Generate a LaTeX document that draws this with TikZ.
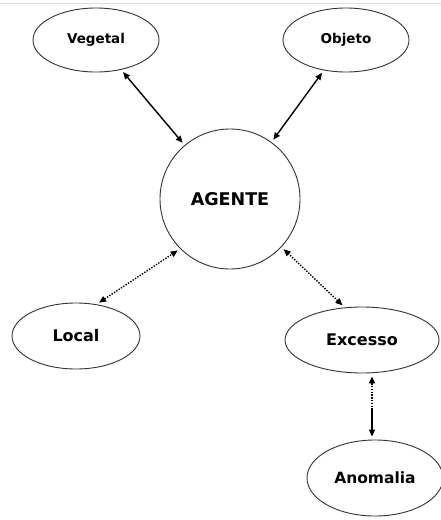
\documentclass[tikz,border=0pt]{standalone}
\usepackage{fontspec}
\setmainfont{DejaVu Sans}
\usetikzlibrary{arrows.meta,shapes.geometric}
\begin{document}
\begin{tikzpicture}[x=1pt,y=-1pt,
  concept/.style={draw=black!80,line width=0.9pt,ellipse,inner sep=0pt,
    font=\bfseries\fontsize{16}{18}\selectfont},
  small/.style={font=\bfseries\fontsize{13.5}{15}\selectfont},
  link/.style={line width=1.4pt,{Triangle[length=7pt,width=6pt]}-{Triangle[length=7pt,width=6pt]},shorten <=3pt,shorten >=3pt},
  dotlink/.style={link,dash pattern=on 1.4pt off 1.4pt}
]
\useasboundingbox (0,0) rectangle (441,520);
\draw[black!12,line width=0.8pt] (0,3) -- (441,3);

\node[concept,small,minimum width=126pt,minimum height=64pt] (veg) at (96,40) {Vegetal};
\node[concept,small,minimum width=126pt,minimum height=64pt] (obj) at (346,40) {Objeto};
\node[draw=black!80,line width=0.9pt,circle,minimum size=140pt,inner sep=0pt,
  font=\bfseries\fontsize{17.5}{19}\selectfont] (ag) at (230,199) {AGENTE};
\node[concept,minimum width=128pt,minimum height=66pt] (loc) at (76,336) {Local};
\node[concept,minimum width=154pt,minimum height=66pt] (exc) at (362,340) {Excesso};
\node[concept,minimum width=136pt,minimum height=76pt,
  font=\bfseries\fontsize{15.5}{17}\selectfont] (ano) at (375,478) {Anomalia};

\coordinate (mid) at (372,410);

\draw[link] (veg) -- (ag);
\draw[link] (obj) -- (ag);
\draw[dotlink] (loc.57) -- (ag.-135);
\draw[dotlink] (exc.118) -- (ag.-43);
\draw[line width=1.4pt,dash pattern=on 1.4pt off 1.4pt,{Triangle[length=7pt,width=6pt]}-,shorten <=3pt] (exc.south -| mid) -- (mid);
\draw[line width=1.4pt,-{Triangle[length=7pt,width=6pt]},shorten >=3pt] (mid) -- (ano.north -| mid);
\end{tikzpicture}
\end{document}
